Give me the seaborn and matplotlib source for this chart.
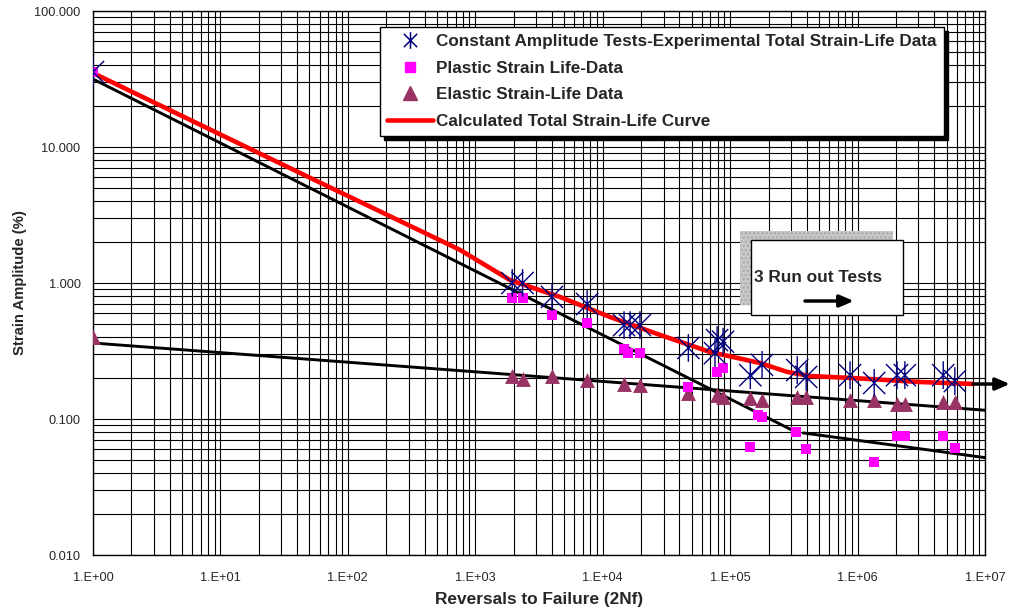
import numpy as np
import pandas as pd
import seaborn as sns
import matplotlib
matplotlib.use("Agg")
import matplotlib.pyplot as plt
from matplotlib.path import Path
from matplotlib.lines import Line2D
from matplotlib.ticker import LogLocator, FuncFormatter, NullFormatter
from matplotlib.patches import Rectangle

# ---------------- data ----------------
total_rev = [1, 1950, 2350, 4000, 7550, 14700, 16400, 19600, 47000, 79000, 88000, 76000,
             144000, 178000, 336000, 395000, 873000, 1350000, 2040000, 2350000, 4700000, 5800000]
total_amp = [35.6, 1.0, 1.0, 0.79, 0.70, 0.49, 0.49, 0.49, 0.333, 0.38, 0.37, 0.305,
             0.21, 0.25, 0.229, 0.204, 0.21, 0.184, 0.21, 0.21, 0.21, 0.19]

plastic_rev = [1, 1950, 2350, 4000, 7550, 14700, 15900, 19600, 47000, 79000, 88000,
               166000, 178000, 144000, 330000, 395000, 1350000, 2040000, 2350000, 4700000, 5800000]
plastic_amp = [35.6, 0.78, 0.78, 0.58, 0.51, 0.327, 0.305, 0.305, 0.172, 0.222, 0.237,
               0.107, 0.103, 0.062, 0.080, 0.060, 0.048, 0.075, 0.075, 0.075, 0.061]

elastic_rev = [1, 1950, 2350, 4000, 7550, 14700, 19600, 47000, 79000, 88000, 144000, 178000,
               336000, 395000, 873000, 1350000, 2040000, 2350000, 4700000, 5800000]
elastic_amp = [0.40, 0.207, 0.197, 0.207, 0.194, 0.181, 0.178, 0.155, 0.15, 0.145, 0.143, 0.138,
               0.145, 0.145, 0.138, 0.138, 0.129, 0.129, 0.133, 0.133]

calc_rev = [1, 42.2, 760, 1877, 4630, 11430, 28200, 69600, 171900, 280000, 424000, 923000, 3090000, 8070000]
calc_amp = [35.0, 6.44, 1.75, 1.05, 0.789, 0.562, 0.415, 0.311, 0.258, 0.222, 0.207, 0.200, 0.187, 0.181]

elastic_fit_rev = [1, 1e7]
elastic_fit_amp = [0.362, 0.116]
plastic_fit_rev = [1, 330000]
plastic_fit_amp = [31.6, 0.080]
plastic_tail_rev = [374000, 1e7]
plastic_tail_amp = [0.079, 0.052]

x_decades = [0, 1, 2, 3, 4, 5, 6, 7]
y_ticks = [0.01, 0.1, 1, 10, 100]

labels = ["Constant Amplitude Tests-Experimental Total Strain-Life Data",
          "Plastic Strain Life-Data",
          "Elastic Strain-Life Data",
          "Calculated Total Strain-Life Curve"]

# ---------------- style ----------------
sns.set_theme(style="white")
plt.rcParams["font.family"] = ["Liberation Sans", "DejaVu Sans"]

fig = plt.figure(figsize=(10.10, 6.13), dpi=100)
ax = fig.add_axes([93/1010, 1-555/613, 892/1010, 544/613])
ax.set_xscale("log")
ax.set_yscale("log")
ax.set_xlim(1, 1e7)
ax.set_ylim(0.01, 100)

# grid
ax.xaxis.set_major_locator(LogLocator(base=10, numticks=20))
ax.xaxis.set_minor_locator(LogLocator(base=10, subs=np.arange(2, 10), numticks=20))
ax.yaxis.set_major_locator(LogLocator(base=10, numticks=20))
ax.yaxis.set_minor_locator(LogLocator(base=10, subs=np.arange(2, 10), numticks=20))
ax.grid(True, which="both", color="black", linewidth=0.8)
ax.set_axisbelow(True)

# asterisk marker (vertical bar + X)
ast = Path([(0, -1), (0, 1), (-0.8, -0.8), (0.8, 0.8), (-0.8, 0.8), (0.8, -0.8)],
           [Path.MOVETO, Path.LINETO, Path.MOVETO, Path.LINETO, Path.MOVETO, Path.LINETO])

navy = "#000080"
magenta = "#FF00FF"
plum = "#993366"
red = "#FF0000"

# fitted lines
sns.lineplot(x=elastic_fit_rev, y=elastic_fit_amp, ax=ax, color="black", linewidth=2.1,
             sort=False, estimator=None, zorder=3)
sns.lineplot(x=plastic_fit_rev, y=plastic_fit_amp, ax=ax, color="black", linewidth=2.1,
             sort=False, estimator=None, zorder=3)
sns.lineplot(x=plastic_tail_rev, y=plastic_tail_amp, ax=ax, color="black", linewidth=2.1,
             sort=False, estimator=None, zorder=3)
# calculated total curve
sns.lineplot(x=calc_rev, y=calc_amp, ax=ax, color=red, linewidth=3.3,
             sort=False, estimator=None, zorder=4)

# data points
sns.scatterplot(x=elastic_rev, y=elastic_amp, ax=ax, marker="^", s=115, color=plum,
                edgecolor=plum, linewidth=0, zorder=5)
sns.scatterplot(x=plastic_rev, y=plastic_amp, ax=ax, marker="s", s=50, color=magenta,
                edgecolor=magenta, linewidth=0, zorder=6)
sns.scatterplot(x=total_rev, y=total_amp, ax=ax, marker=ast, s=400, color=navy,
                edgecolor=navy, facecolor="none", linewidth=1.0, zorder=7)

# ticks
ax.xaxis.set_major_formatter(FuncFormatter(lambda v, p: "1.E+%02d" % int(round(np.log10(v)))))
ax.yaxis.set_major_formatter(FuncFormatter(lambda v, p: "%.3f" % v))
ax.xaxis.set_minor_formatter(NullFormatter())
ax.yaxis.set_minor_formatter(NullFormatter())
ax.set_xticks([10.0**d for d in x_decades])
ax.set_yticks(y_ticks)
ax.tick_params(axis="both", which="major", length=4, width=1, color="black",
               labelsize=9.2, direction="out", pad=5)
ax.tick_params(axis="x", which="major", pad=8)
ax.tick_params(axis="both", which="minor", length=0)
for sp in ax.spines.values():
    sp.set_color("black")
    sp.set_linewidth(1)

ax.set_xlabel("Reversals to Failure (2Nf)", fontsize=12.4, fontweight="bold", labelpad=6)
ax.set_ylabel("Strain Amplitude (%)", fontsize=10.7, fontweight="bold", labelpad=5)

# legend
handles = [
    Line2D([], [], linestyle="none", marker=ast, markersize=12, markeredgecolor=navy,
           markerfacecolor="none", markeredgewidth=1.1),
    Line2D([], [], linestyle="none", marker="s", markersize=7, color=magenta),
    Line2D([], [], linestyle="none", marker="^", markersize=10, color=plum),
    Line2D([], [], color=red, linewidth=3.3),
]
leg = ax.legend(handles, labels, loc="upper left",
                bbox_to_anchor=(380/1010, 1-27/613), bbox_transform=fig.transFigure,
                borderaxespad=0, prop={"size": 12.3, "weight": "bold"},
                frameon=True, fancybox=False, framealpha=1, edgecolor="black",
                handlelength=2.7, handletextpad=0.15, labelspacing=0.67,
                borderpad=0.42, shadow={"color": "black", "alpha": 1, "ox": 3, "oy": -3})
leg.get_frame().set_linewidth(1)
leg.set_zorder(20)

# run-out annotation box
shadow = Rectangle((0.7253, 0.4596), 0.8969-0.7253, 0.5956-0.4596, transform=ax.transAxes,
                   facecolor="#c8c8c8", edgecolor="#a8a8a8", hatch="....", linewidth=0, zorder=10)
ax.add_patch(shadow)
box = Rectangle((0.7377, 0.4412), 0.9081-0.7377, 0.5790-0.4412, transform=ax.transAxes,
                facecolor="white", edgecolor="black", linewidth=1, zorder=11)
ax.add_patch(box)
ax.text(0.7405, 0.5092, "3 Run out Tests", transform=ax.transAxes, fontsize=12.4,
        fontweight="bold", va="center", ha="left", zorder=12)
ax.annotate("", xy=(0.853, 0.4669), xytext=(0.7982, 0.4669), xycoords="axes fraction",
            textcoords="axes fraction",
            arrowprops=dict(arrowstyle="-|>,head_length=0.7,head_width=0.3", color="black",
                            lw=2.5, shrinkA=0, shrinkB=0), zorder=12)
# arrow beyond the curve end
ax.annotate("", xy=(1.028, 0.3143), xytext=(0.9865, 0.3143), xycoords="axes fraction",
            textcoords="axes fraction", annotation_clip=False,
            arrowprops=dict(arrowstyle="-|>,head_length=0.7,head_width=0.3", color="black",
                            lw=2.5, shrinkA=0, shrinkB=0), zorder=12)

fig.savefig("out.png", dpi=100)
